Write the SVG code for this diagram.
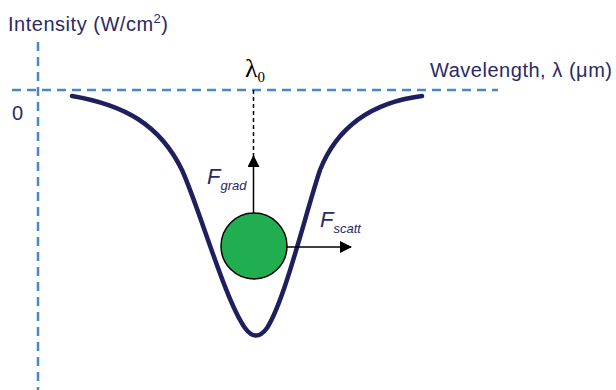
<svg xmlns="http://www.w3.org/2000/svg" width="616" height="390" viewBox="0 0 616 390">
<defs>
<marker id="ah" markerWidth="12" markerHeight="12" refX="11" refY="6" orient="auto" markerUnits="userSpaceOnUse">
<path d="M0,0 L12,6 L0,12 Z" fill="#000"/>
</marker>
<style>
.axis{stroke:#4a86c8;stroke-width:2.5;fill:none;stroke-dasharray:9 6}
.lab{font-family:"Liberation Sans",Arial,sans-serif;font-size:20px;fill:#2a2a66}
.f{font-family:"Liberation Sans",Arial,sans-serif;font-style:italic;fill:#2a2a66}
.curve{fill:none;stroke:#1f1f5f;stroke-width:4.5;stroke-linecap:round}
</style>
</defs>
<g id="axes">
<line class="axis" x1="38" y1="42" x2="38" y2="390"/>
<line class="axis" x1="12" y1="90" x2="498" y2="90"/>
<text class="lab" x="8" y="31" textLength="160">Intensity (W/cm<tspan font-size="13" dy="-8">2</tspan><tspan dy="8">)</tspan></text>
<text class="lab" x="12" y="120">0</text>
<text class="lab" x="430" y="77" textLength="182">Wavelength, λ (μm)</text>
</g>
<g id="curve">
<path class="curve" d="M72,96 C125,105 160,125 182,170 C200,210 225,300 245,328 Q256,343 267,328 C285,300 305,215 320,170 C338,125 375,102 422,96"/>
</g>
<g id="connectors">
<line x1="253.5" y1="90" x2="253.5" y2="158" stroke="#000" stroke-width="1.5" stroke-dasharray="4 3"/>
<line x1="253.5" y1="214" x2="253.5" y2="156" stroke="#000" stroke-width="1.5" marker-end="url(#ah)"/>
<line x1="287" y1="247" x2="351" y2="247" stroke="#000" stroke-width="1.5" marker-end="url(#ah)"/>
</g>
<g id="lambda0">
<text x="245" y="77" font-family="'Liberation Serif','Times New Roman',serif" font-size="26" fill="#000">λ<tspan font-size="15" dy="5">0</tspan></text>
</g>
<g id="particle">
<circle cx="254" cy="246" r="33" fill="#21ae50" stroke="#000" stroke-width="1.5"/>
</g>
<g id="fgrad">
<text class="f" x="207" y="184" font-size="22">F<tspan font-size="13" dy="6">grad</tspan></text>
</g>
<g id="fscatt">
<text class="f" x="320" y="227" font-size="22">F<tspan font-size="13" dy="6">scatt</tspan></text>
</g>
</svg>
